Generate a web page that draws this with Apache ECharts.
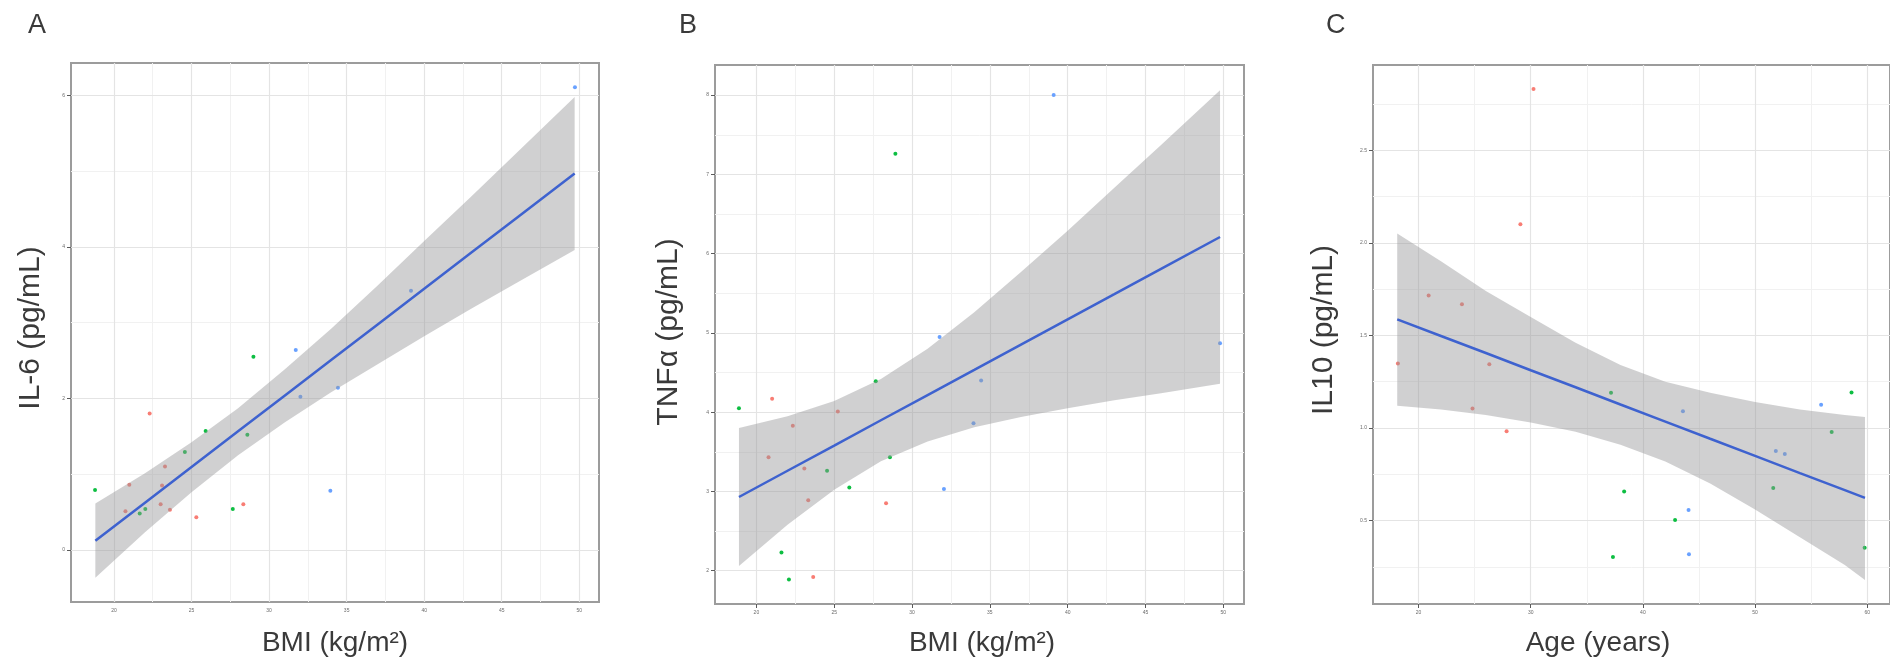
<!DOCTYPE html>
<html>
<head>
<meta charset="utf-8">
<script src="https://cdn.jsdelivr.net/npm/echarts@6.0.0/dist/echarts.min.js"></script>
<style>
  html, body { margin: 0; padding: 0; background: #ffffff; }
  #chart { width: 1890px; height: 659px; }
</style>
</head>
<body>
<div id="chart"></div>
<script>
// Group colours: 0 = red, 1 = green, 2 = blue
const groupColors = ['#F8766D', '#00BA38', '#619CFF'];

// ---- Panel A: BMI vs IL-6 ----
const bmiA   = [18.78, 20.99, 20.74, 21.66, 22.02, 22.30, 23.29, 23.10, 23.01, 23.61, 24.57, 25.91, 25.31, 27.66, 28.34, 28.60, 28.99, 31.72, 32.02, 34.44, 33.95, 39.15, 49.72];
const il6    = [0.79, 0.86, 0.51, 0.48, 0.54, 1.80, 1.10, 0.85, 0.60, 0.53, 1.29, 1.57, 0.43, 0.54, 0.60, 1.52, 2.55, 2.64, 2.02, 2.14, 0.78, 3.42, 6.11];
const groupA = [1, 0, 0, 1, 1, 0, 0, 0, 0, 0, 1, 1, 0, 1, 0, 1, 1, 2, 2, 2, 2, 2, 2];
const fitXA  = [18.8, 22, 25, 28, 31, 34, 37, 40, 43, 46, 49.7];
const fitA   = [0.120, 0.622, 1.093, 1.564, 2.035, 2.506, 2.977, 3.448, 3.919, 4.390, 4.971];
const upperA = [0.61, 1.01, 1.42, 1.87, 2.38, 2.92, 3.49, 4.08, 4.66, 5.25, 5.98];
const lowerA = [-0.37, 0.23, 0.76, 1.25, 1.68, 2.08, 2.45, 2.82, 3.18, 3.53, 3.96];

// ---- Panel B: BMI vs TNFα ----
const bmiB   = [18.88, 21.01, 20.78, 22.34, 23.08, 24.54, 23.33, 21.61, 22.09, 23.65, 25.23, 25.97, 27.67, 28.58, 28.33, 31.77, 32.05, 33.95, 34.44, 49.79, 28.93, 39.10];
const tnfa   = [4.05, 4.17, 3.43, 3.83, 3.29, 3.26, 2.89, 2.23, 1.89, 1.92, 4.01, 3.05, 4.39, 3.43, 2.85, 4.95, 3.03, 3.86, 4.40, 4.87, 7.26, 8.00];
const groupB = [1, 0, 0, 0, 0, 1, 0, 1, 1, 0, 0, 1, 1, 1, 0, 2, 2, 2, 2, 2, 1, 2];
const fitXB  = [18.88, 22, 25, 28, 31, 34, 37, 40, 43, 46, 49.79];
const fitB   = [2.930, 3.261, 3.579, 3.898, 4.216, 4.534, 4.853, 5.171, 5.489, 5.808, 6.210];
const upperB = [3.80, 3.95, 4.14, 4.42, 4.80, 5.26, 5.77, 6.29, 6.83, 7.37, 8.06];
const lowerB = [2.06, 2.58, 3.02, 3.38, 3.63, 3.81, 3.94, 4.05, 4.15, 4.24, 4.36];

// ---- Panel C: Age vs IL10 ----
const ageC   = [30.25, 29.08, 20.90, 23.87, 18.16, 26.31, 24.81, 27.85, 37.16, 43.57, 38.33, 37.33, 42.87, 44.07, 44.11, 51.85, 52.65, 51.62, 55.89, 56.83, 58.60, 59.77];
const il10   = [2.83, 2.10, 1.715, 1.668, 1.349, 1.345, 1.106, 0.982, 1.19, 1.09, 0.658, 0.304, 0.504, 0.558, 0.318, 0.876, 0.860, 0.676, 1.126, 0.978, 1.192, 0.354];
const groupC = [0, 0, 0, 0, 0, 0, 0, 0, 1, 2, 1, 1, 1, 2, 2, 2, 2, 1, 2, 1, 1, 1];
const fitXC  = [18.1, 22, 26, 30, 34, 38, 42, 46, 50, 54, 58, 59.8];
const fitC   = [1.587, 1.497, 1.405, 1.312, 1.220, 1.127, 1.035, 0.942, 0.850, 0.757, 0.665, 0.623];
const upperC = [2.05, 1.90, 1.74, 1.60, 1.46, 1.34, 1.25, 1.19, 1.14, 1.10, 1.07, 1.06];
const lowerC = [1.12, 1.10, 1.07, 1.03, 0.98, 0.91, 0.82, 0.70, 0.56, 0.41, 0.26, 0.18];

// ---- Tick values ----
const bmiTicks   = [20, 25, 30, 35, 40, 45, 50];
const bmiMinor   = [22.5, 27.5, 32.5, 37.5, 42.5, 47.5];
const il6Ticks   = [0, 2, 4, 6];
const il6Minor   = [1, 3, 5];
const tnfaTicks  = [2, 3, 4, 5, 6, 7, 8];
const tnfaMinor  = [2.5, 3.5, 4.5, 5.5, 6.5, 7.5];
const ageTicks   = [20, 30, 40, 50, 60];
const ageMinor   = [25, 35, 45, 55];
const il10Ticks  = [0.5, 1.0, 1.5, 2.0, 2.5];
const il10Minor  = [0.25, 0.75, 1.25, 1.75, 2.25, 2.75];

// ---- Layout and styling ----
const panels = [
  { grid: { left: 71,   top: 63, width: 528, height: 539 }, xRange: [17.23, 51.27], yRange: [-0.69, 6.43],
    x: bmiA, y: il6, g: groupA, fx: fitXA, fy: fitA, up: upperA, lo: lowerA,
    xt: bmiTicks, xm: bmiMinor, yt: il6Ticks, ym: il6Minor, yDec: 0 },
  { grid: { left: 715,  top: 65, width: 529, height: 539 }, xRange: [17.34, 51.33], yRange: [1.58, 8.38],
    x: bmiB, y: tnfa, g: groupB, fx: fitXB, fy: fitB, up: upperB, lo: lowerB,
    xt: bmiTicks, xm: bmiMinor, yt: tnfaTicks, ym: tnfaMinor, yDec: 0 },
  { grid: { left: 1373, top: 65, width: 520, height: 539 }, xRange: [15.94, 62.03], yRange: [0.05, 2.96],
    x: ageC, y: il10, g: groupC, fx: fitXC, fy: fitC, up: upperC, lo: lowerC,
    xt: ageTicks, xm: ageMinor, yt: il10Ticks, ym: il10Minor, yDec: 1 }
];

const majorGrid = { color: '#e4e4e4', width: 1.2, type: 'solid' };
const minorGrid = { color: '#f1f1f1', width: 1, type: 'solid' };
const tickColor = '#5a5a5a';
const labelColor = '#6a6a6a';
const textFont = '"Liberation Sans", Arial, sans-serif';

const grids = [], xAxes = [], yAxes = [], series = [];

panels.forEach(function (p, i) {
  grids.push(Object.assign({ show: true, borderColor: '#9c9c9c', borderWidth: 2, backgroundColor: '#ffffff' }, p.grid));

  xAxes.push({
    type: 'value', gridIndex: i, min: p.xRange[0], max: p.xRange[1],
    axisLine: { show: false },
    splitLine: { show: false },
    axisTick: { show: true, customValues: p.xt, length: 4, lineStyle: { color: tickColor, width: 1 } },
    axisLabel: { customValues: p.xt, fontSize: 5, color: labelColor, margin: 6, fontFamily: textFont,
                 formatter: function (v) { return String(Math.round(v)); } }
  });
  yAxes.push({
    type: 'value', gridIndex: i, min: p.yRange[0], max: p.yRange[1],
    axisLine: { show: false },
    splitLine: { show: false },
    axisTick: { show: true, customValues: p.yt, length: 4, lineStyle: { color: tickColor, width: 1 } },
    axisLabel: { customValues: p.yt, fontSize: 5, color: labelColor, margin: 6, fontFamily: textFont,
                 formatter: function (v) { return v.toFixed(p.yDec); } }
  });

  // Grid lines (minor first, then major) drawn on the scales
  const lines = []
    .concat(p.xm.map(function (v) { return { xAxis: v, lineStyle: minorGrid }; }))
    .concat(p.ym.map(function (v) { return { yAxis: v, lineStyle: minorGrid }; }))
    .concat(p.xt.map(function (v) { return { xAxis: v, lineStyle: majorGrid }; }))
    .concat(p.yt.map(function (v) { return { yAxis: v, lineStyle: majorGrid }; }));

  // Observations
  series.push({
    type: 'scatter', xAxisIndex: i, yAxisIndex: i, z: 2, silent: true,
    symbolSize: 4,
    data: p.x.map(function (xv, k) {
      return { value: [xv, p.y[k]], itemStyle: { color: groupColors[p.g[k]], opacity: 0.95 } };
    }),
    markLine: {
      silent: true, z: 1, symbol: ['none', 'none'], label: { show: false },
      emphasis: { disabled: true }, animation: false,
      data: lines
    }
  });

  // Confidence band of the linear fit
  series.push({
    type: 'custom', xAxisIndex: i, yAxisIndex: i, z: 3, silent: true,
    data: [[p.fx[0], p.fy[0]]],
    renderItem: function (params, api) {
      const pts = [];
      for (let k = 0; k < p.fx.length; k++) pts.push(api.coord([p.fx[k], p.up[k]]));
      for (let k = p.fx.length - 1; k >= 0; k--) pts.push(api.coord([p.fx[k], p.lo[k]]));
      return { type: 'polygon', shape: { points: pts }, style: { fill: 'rgba(150,150,152,0.45)', stroke: null } };
    }
  });

  // Fitted regression line
  series.push({
    type: 'line', xAxisIndex: i, yAxisIndex: i, z: 4, silent: true,
    showSymbol: false, symbol: 'none',
    lineStyle: { color: '#3e62cf', width: 2.5 },
    data: p.fx.map(function (xv, k) { return [xv, p.fy[k]]; })
  });
});

// Panel letters and axis titles
function textEl(text, x, y, size, rotate, align) {
  return {
    type: 'text', x: x, y: y, rotation: rotate ? Math.PI / 2 : 0, silent: true,
    style: { text: text, fill: '#3a3a3a', fontSize: size, fontFamily: textFont,
             align: align || 'center', verticalAlign: 'middle',
             textAlign: align || 'center', textVerticalAlign: 'middle' }
  };
}
const graphics = [
  textEl('A', 28, 26, 27, false, 'left'),
  textEl('B', 679, 26, 27, false, 'left'),
  textEl('C', 1326, 26, 27, false, 'left'),
  textEl('IL-6 (pg/mL)', 31, 328, 30, true),
  textEl('TNFα (pg/mL)', 669, 332, 30, true),
  textEl('IL10 (pg/mL)', 1324, 330, 30, true),
  textEl('BMI (kg/m²)', 335, 643, 28, false),
  textEl('BMI (kg/m²)', 982, 643, 28, false),
  textEl('Age (years)', 1598, 643, 28, false)
];

const chart = echarts.init(document.getElementById('chart'), null, { renderer: 'canvas' });
chart.setOption({
  animation: false,
  backgroundColor: '#ffffff',
  grid: grids,
  xAxis: xAxes,
  yAxis: yAxes,
  series: series,
  graphic: { elements: graphics }
});
</script>
</body>
</html>
